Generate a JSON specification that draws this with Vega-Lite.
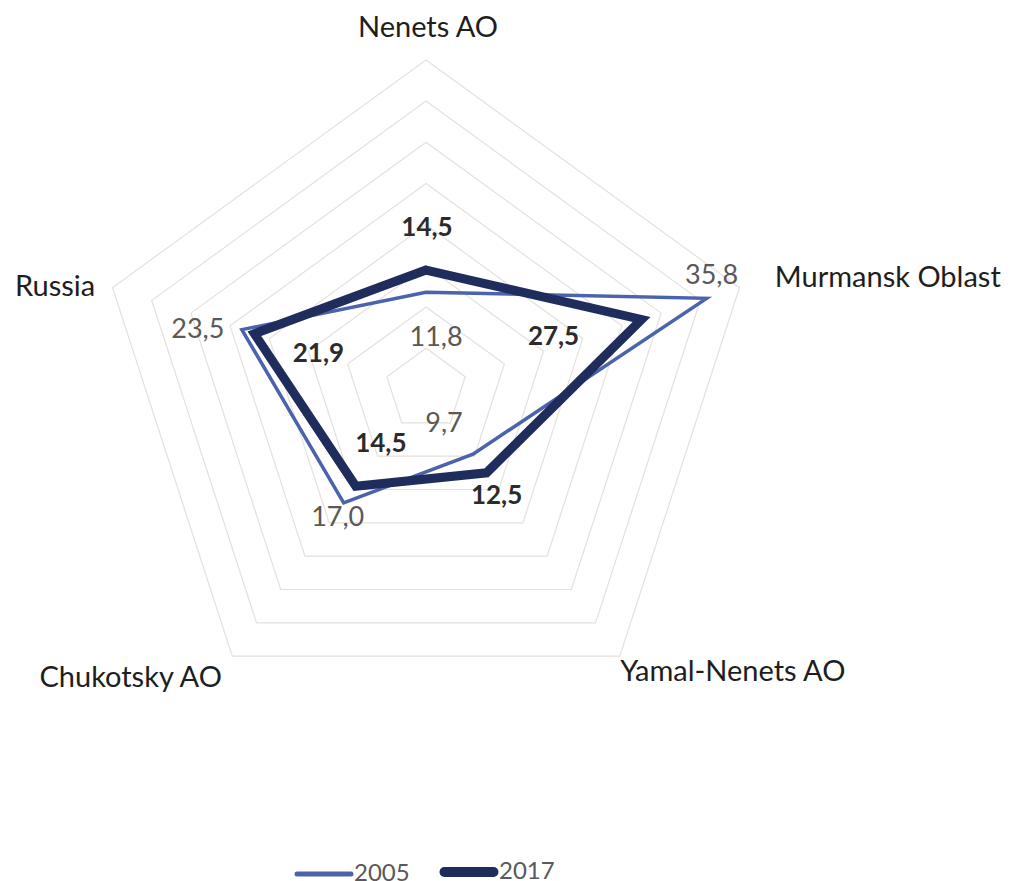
{
  "$schema": "https://vega.github.io/schema/vega-lite/v6.json",
  "width": 1010,
  "height": 881,
  "padding": 0,
  "autosize": {"type": "none"},
  "background": "white",
  "config": {"view": {"stroke": null}, "font": "Lato"},
  "datasets": {
    "series": [
      {"region": "Nenets AO", "idx": 0, "year": "2005", "value": 11.8},
      {"region": "Murmansk Oblast", "idx": 1, "year": "2005", "value": 35.8},
      {"region": "Yamal-Nenets AO", "idx": 2, "year": "2005", "value": 9.7},
      {"region": "Chukotsky AO", "idx": 3, "year": "2005", "value": 17.0},
      {"region": "Russia", "idx": 4, "year": "2005", "value": 23.5},
      {"region": "Nenets AO", "idx": 0, "year": "2017", "value": 14.5},
      {"region": "Murmansk Oblast", "idx": 1, "year": "2017", "value": 27.5},
      {"region": "Yamal-Nenets AO", "idx": 2, "year": "2017", "value": 12.5},
      {"region": "Chukotsky AO", "idx": 3, "year": "2017", "value": 14.5},
      {"region": "Russia", "idx": 4, "year": "2017", "value": 21.9}
    ],
    "rings": [
      {"ring": 5, "idx": [0, 1, 2, 3, 4]},
      {"ring": 10, "idx": [0, 1, 2, 3, 4]},
      {"ring": 15, "idx": [0, 1, 2, 3, 4]},
      {"ring": 20, "idx": [0, 1, 2, 3, 4]},
      {"ring": 25, "idx": [0, 1, 2, 3, 4]},
      {"ring": 30, "idx": [0, 1, 2, 3, 4]},
      {"ring": 35, "idx": [0, 1, 2, 3, 4]},
      {"ring": 40, "idx": [0, 1, 2, 3, 4]}
    ],
    "regions": [
      {"region": "Nenets AO", "idx": 0},
      {"region": "Murmansk Oblast", "idx": 1},
      {"region": "Yamal-Nenets AO", "idx": 2},
      {"region": "Chukotsky AO", "idx": 3},
      {"region": "Russia", "idx": 4}
    ]
  },
  "layer": [
    {
      "data": {"name": "rings"},
      "transform": [
        {"flatten": ["idx"]},
        {"calculate": "datum.ring * sin(datum.idx * 2 * PI / 5)", "as": "px"},
        {"calculate": "datum.ring * cos(datum.idx * 2 * PI / 5)", "as": "py"}
      ],
      "mark": {"type": "line", "interpolate": "linear-closed", "stroke": "#e5e1dc", "strokeWidth": 1.2},
      "encoding": {
        "x": {"field": "px", "type": "quantitative", "scale": {"domain": [-51.70, 70.87], "nice": false, "zero": false}, "axis": null},
        "y": {"field": "py", "type": "quantitative", "scale": {"domain": [-59.65, 47.27], "nice": false, "zero": false}, "axis": null},
        "detail": {"field": "ring", "type": "nominal"},
        "order": {"field": "idx", "type": "quantitative"}
      }
    },
    {
      "data": {"name": "series"},
      "transform": [
        {"filter": "datum.year === '2005'"},
        {"calculate": "datum.value * sin(datum.idx * 2 * PI / 5)", "as": "px"},
        {"calculate": "datum.value * cos(datum.idx * 2 * PI / 5)", "as": "py"}
      ],
      "mark": {"type": "line", "interpolate": "linear-closed", "strokeWidth": 3.5, "strokeJoin": "miter", "strokeMiterLimit": 10},
      "encoding": {
        "x": {"field": "px", "type": "quantitative", "axis": null},
        "y": {"field": "py", "type": "quantitative", "axis": null},
        "color": {
          "field": "year", "type": "nominal",
          "scale": {"domain": ["2005", "2017"], "range": ["#4b62ad", "#1f2d5c"]},
          "legend": {
            "orient": "none", "legendX": 312, "legendY": 853, "direction": "horizontal",
            "title": null, "symbolType": "stroke", "symbolSize": 2916, "symbolStrokeWidth": 5,
            "labelFont": "Lato", "labelFontSize": 24, "labelColor": "#595959", "labelBaseline": "middle",
            "labelOffset": 18, "columnPadding": 14,
            "encode": {
              "symbols": {"update": {
                "y": {"signal": "datum.value === '2017' ? 19 : 15"},
                "size": {"signal": "datum.value === '2017' ? 2401 : 2916"},
                "strokeWidth": {"signal": "datum.value === '2017' ? 10 : 5"},
                "strokeCap": {"value": "round"}}},
              "labels": {"update": {"y": {"signal": "datum.value === '2017' ? 19 : 15"}}}
            }
          }
        },
        "order": {"field": "idx", "type": "quantitative"}
      }
    },
    {
      "data": {"name": "series"},
      "transform": [
        {"filter": "datum.year === '2017'"},
        {"calculate": "datum.value * sin(datum.idx * 2 * PI / 5)", "as": "px"},
        {"calculate": "datum.value * cos(datum.idx * 2 * PI / 5)", "as": "py"}
      ],
      "mark": {"type": "line", "interpolate": "linear-closed", "strokeWidth": 9, "strokeJoin": "miter", "strokeMiterLimit": 10},
      "encoding": {
        "x": {"field": "px", "type": "quantitative", "axis": null},
        "y": {"field": "py", "type": "quantitative", "axis": null},
        "color": {"field": "year", "type": "nominal"},
        "order": {"field": "idx", "type": "quantitative"}
      }
    },
    {
      "data": {"name": "series"},
      "transform": [
        {"filter": "datum.year === '2005'"},
        {"calculate": "datum.value * sin(datum.idx * 2 * PI / 5)", "as": "px"},
        {"calculate": "datum.value * cos(datum.idx * 2 * PI / 5)", "as": "py"},
        {"calculate": "replace(format(datum.value, '.1f'), '.', ',')", "as": "lbl"}
      ],
      "mark": {
        "type": "text", "fontSize": 27, "color": "#595959", "align": "center", "baseline": "middle",
        "dx": {"expr": "[10, 5, -29, -6, -44][datum.idx]"},
        "dy": {"expr": "[46, -22, -30, 15, 0][datum.idx]"}
      },
      "encoding": {
        "x": {"field": "px", "type": "quantitative", "axis": null},
        "y": {"field": "py", "type": "quantitative", "axis": null},
        "text": {"field": "lbl"}
      }
    },
    {
      "data": {"name": "series"},
      "transform": [
        {"filter": "datum.year === '2017'"},
        {"calculate": "datum.value * sin(datum.idx * 2 * PI / 5)", "as": "px"},
        {"calculate": "datum.value * cos(datum.idx * 2 * PI / 5)", "as": "py"},
        {"calculate": "replace(format(datum.value, '.1f'), '.', ',')", "as": "lbl"}
      ],
      "mark": {
        "type": "text", "fontSize": 26, "fontWeight": "bold", "color": "#2b2b2b", "align": "center", "baseline": "middle",
        "dx": {"expr": "[1, -88, 10, 25, 64][datum.idx]"},
        "dy": {"expr": "[-42, 18, 23, -42, 20][datum.idx]"}
      },
      "encoding": {
        "x": {"field": "px", "type": "quantitative", "axis": null},
        "y": {"field": "py", "type": "quantitative", "axis": null},
        "text": {"field": "lbl"}
      }
    },
    {
      "data": {"name": "regions"},
      "transform": [
        {"calculate": "44 * sin(datum.idx * 2 * PI / 5)", "as": "px"},
        {"calculate": "44 * cos(datum.idx * 2 * PI / 5)", "as": "py"}
      ],
      "mark": {
        "type": "text", "fontSize": 29, "color": "#1e1e1e", "baseline": "middle",
        "align": {"expr": "['center', 'left', 'left', 'right', 'right'][datum.idx]"},
        "dx": {"expr": "[2, 4, -19, 9, 14][datum.idx]"},
        "dy": {"expr": "[1, 1, -11, -5, 10][datum.idx]"}
      },
      "encoding": {
        "x": {"field": "px", "type": "quantitative", "axis": null},
        "y": {"field": "py", "type": "quantitative", "axis": null},
        "text": {"field": "region"}
      }
    }
  ]
}
